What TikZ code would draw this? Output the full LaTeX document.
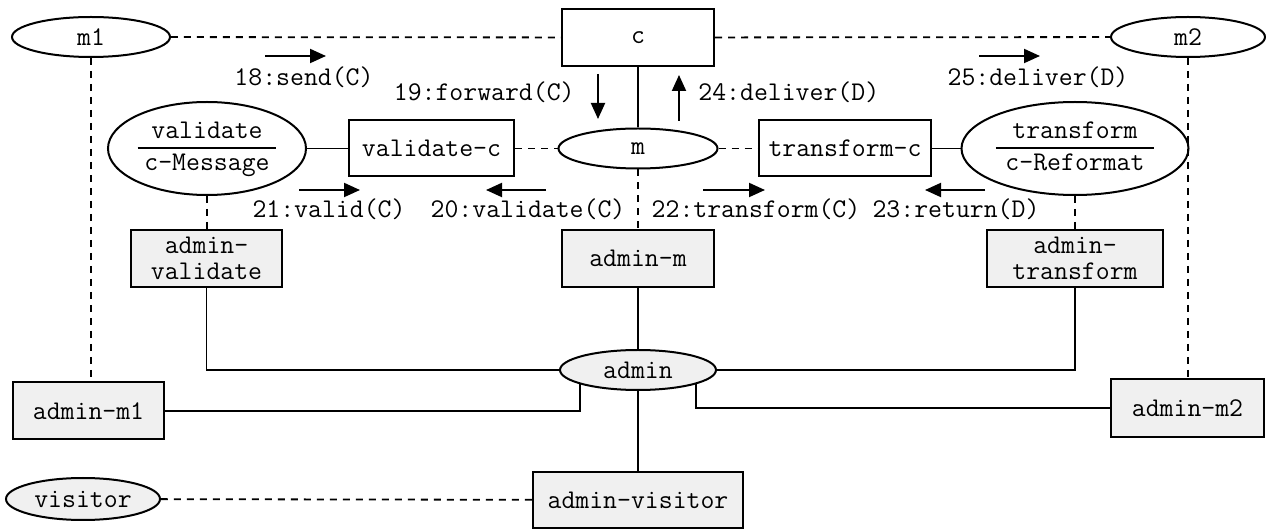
\documentclass[tikz,border=0pt]{standalone}
\usetikzlibrary{shapes.geometric,arrows.meta}
\newcommand{\diagfont}{\fontsize{13.5}{13}\selectfont\ttfamily}
\definecolor{ink}{HTML}{000000}
\definecolor{boxgrey}{HTML}{F0F0F0}
\renewcommand{\arraystretch}{1.15}
\setlength{\arrayrulewidth}{1pt}
\tikzset{
 every node/.style={font=\diagfont,text=ink},
 obj/.style={draw=ink,line width=1pt,fill=white,minimum height=28pt,inner sep=0pt},
 role/.style={obj,ellipse,minimum height=20pt},
 adm/.style={obj,fill=boxgrey,minimum height=28.5pt,align=center},
 link/.style={draw=ink,line width=.9pt},
 dlink/.style={link,dash pattern=on 3.5pt off 3pt},
 msg/.style={draw=ink,line width=1pt,-{Triangle[length=8pt,width=7pt]}},
 lab/.style={inner sep=0pt}
}

\begin{document}
\begin{tikzpicture}[x=.5pt,y=-.5pt]
\useasboundingbox (0,0) rectangle (1266,529);
% top row
\node[role,minimum width=79pt] (m1) at (91,37) {m1};
\node[obj,minimum width=76pt,minimum height=28.5pt] (c) at (638,37.5) {c};
\node[role,minimum width=77pt] (m2) at (1188,37) {m2};
% middle row
\node[obj,ellipse,minimum width=99pt,minimum height=46.5pt] (val) at (207,148.5)
 {\begin{tabular}{@{\hspace{3.4pt}}c@{\hspace{3.4pt}}}validate\\\hline c-Message\end{tabular}};
\node[obj,minimum width=82.5pt] (valc) at (431.5,148.5) {validate-c};
\node[role,minimum width=79.5pt] (m) at (638,148.5) {m};
\node[obj,minimum width=86pt] (trc) at (845,148.5) {transform-c};
\node[obj,ellipse,minimum width=113.5pt,minimum height=46.5pt] (trf) at (1075,148.5)
 {\begin{tabular}{@{\hspace{4.8pt}}c@{\hspace{4.8pt}}}transform\\\hline c-Reformat\end{tabular}};
% admin row
\node[adm,minimum width=75.5pt] (aval) at (206.5,258.5) {admin-\\validate};
\node[adm,minimum width=76pt] (am) at (638,258.5) {admin-m};
\node[adm,minimum width=88pt] (atrf) at (1075,258.5) {admin-\\transform};
\node[role,fill=boxgrey,minimum width=78pt] (admin) at (638,370) {admin};
\node[adm,minimum width=75.5pt] (am1) at (88.5,411) {admin-m1};
\node[adm,minimum width=76.5pt,minimum height=29pt] (am2) at (1187.5,408) {admin-m2};
\node[role,fill=boxgrey,minimum width=77pt,minimum height=21pt] (vis) at (83,499) {visitor};
\node[adm,minimum width=105pt,minimum height=28pt] (avis) at (638,500) {admin-visitor};

% connectors
\draw[dlink] (m1) -- (c);
\draw[dlink] (c) -- (m2);
\draw[link] (c) -- (m);
\draw[link] (val) -- (valc);
\draw[dlink] (valc) -- (m);
\draw[dlink] (m) -- (trc);
\draw[link] (trc) -- (trf);
\draw[dlink] (m1.south) -- (m1.south |- am1.north);
\draw[dlink] (m2.south) -- (m2.south |- am2.north);
\draw[dlink] (val.south) -- (val.south |- aval.north);
\draw[dlink] (m.south) -- (m.south |- am.north);
\draw[dlink] (trf.south) -- (trf.south |- atrf.north);
\draw[link] (aval) |- (admin);
\draw[link] (am) -- (admin);
\draw[link] (atrf) |- (admin);
\draw[link] (am1) -| (admin.194);
\draw[link] (am2) -| (admin.346);
\draw[link] (admin) -- (avis);
\draw[dlink] (vis) -- (avis);

% messages
\foreach \n/\xa/\ya/\xb/\yb in {18/265/56/326/56,25/979/56/1040/56,19/598/74/598/119,24/679/121/679/75,
 21/299/190/360/190,20/546/190/486/190,22/703/190/765/190,23/985/190/925/190} {
 \coordinate (s\n) at (\xa,\ya);
 \coordinate (e\n) at (\xb,\yb);
 \draw[msg] (s\n) -- (e\n);
}
\foreach \n/\x/\y/\anc/\lab in {18/304/86/base/send(C),25/1038/86/base/deliver(D),
 19/575/101/base east/forward(C),24/698/101/base west/deliver(D),
 21/329/218/base/valid(C),20/528/218/base/validate(C),22/756/218/base/transform(C),23/956/218/base/return(D)} {
 \node[lab,anchor=\anc] (l\n) at (\x,\y) {\n:\lab};
}
\end{tikzpicture}
\end{document}
